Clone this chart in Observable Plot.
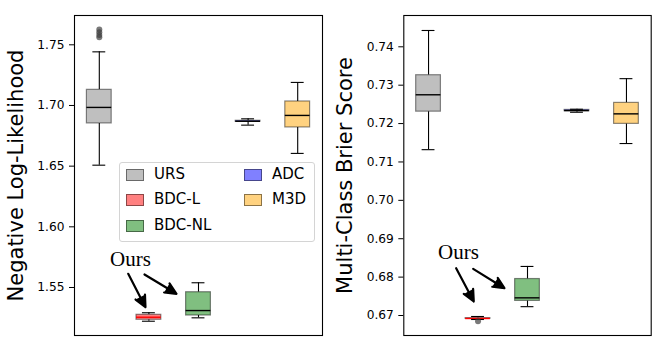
<!DOCTYPE html>
<html>
<head>
<meta charset="utf-8">
<script src="https://cdn.jsdelivr.net/npm/d3@7"></script>
<script src="https://cdn.jsdelivr.net/npm/@observablehq/plot@0.6"></script>
<style>
  html, body { margin: 0; padding: 0; background: white; }
  #wrap { position: relative; width: 665px; height: 350px; overflow: hidden; font-family: "DejaVu Sans", sans-serif; }
  #wrap svg { position: absolute; top: 0; }
  .legend { position: absolute; border: 1px solid #d4d4d4; border-radius: 3px; background: rgba(255,255,255,0.85); }
  .lg-item { position: absolute; font-size: 15px; line-height: 15px; color: black; white-space: nowrap; }
  .lg-sw { position: absolute; width: 16px; height: 10px; border: 1px solid rgba(0,0,0,0.45); }
</style>
</head>
<body>
<div id="wrap"></div>
<script>
// ---- data ----
const methods = ["URS", "BDC-L", "BDC-NL", "ADC", "M3D"];
const positions = [1, 2, 3, 4, 5];
const boxFill = ["#bfbfbf", "#ff8080", "#80bf80", "#8080ff", "#ffd280"];
const medianColor = ["black", "red", "black", "black", "black"];

// Negative Log-Likelihood
const nllLo     = [1.6508, 1.5222, 1.5250, 1.6838, 1.6605];
const nllQ1     = [1.6852, 1.5234, 1.5269, 1.6866, 1.6819];
const nllMedian = [1.6984, 1.5255, 1.5310, 1.6870, 1.6918];
const nllQ3     = [1.7129, 1.5275, 1.5461, 1.6874, 1.7033];
const nllHi     = [1.7442, 1.5292, 1.5539, 1.6890, 1.7190];
const nllOutlierMethod = ["URS", "URS", "URS", "URS"];
const nllOutlierValue  = [1.7563, 1.7580, 1.7604, 1.7626];
const nllTicks = [1.55, 1.60, 1.65, 1.70, 1.75];
const nllDomain = [1.51044, 1.77415];

// Multi-Class Brier Score
const bsLo     = [0.7132, 0.66896, 0.6723, 0.72295, 0.7148];
const bsQ1     = [0.7231, 0.66912, 0.6738, 0.72322, 0.71992];
const bsMedian = [0.7275, 0.66922, 0.6746, 0.72339, 0.72253];
const bsQ3     = [0.7326, 0.66932, 0.6795, 0.72356, 0.72539];
const bsHi     = [0.74425, 0.66974, 0.68278, 0.72373, 0.7317];
const bsOutlierMethod = ["BDC-L"];
const bsOutlierValue  = [0.6685];
const bsTicks = [0.67, 0.68, 0.69, 0.70, 0.71, 0.72, 0.73, 0.74];
const bsDomain = [0.66479, 0.748154];

// "Ours" annotations (data units: x = box position, y = value)
const nllOurs = {x: 1.629, y: 1.5734};
const nllArrows = [
  {x1: 1.583, y1: 1.5613, x2: 1.931, y2: 1.5338},
  {x1: 1.911, y1: 1.5607, x2: 2.556, y2: 1.5448}
];
const bsOurs = {x: 1.6055, y: 0.68652};
const bsArrows = [
  {x1: 1.558, y1: 0.68232, x2: 1.914, y2: 0.67365},
  {x1: 1.902, y1: 0.68216, x2: 2.534, y2: 0.67711}
];

function panel({lo, q1, med, q3, hi, outM, outV, ticks, domain, label, ours, arrows, width, marginLeft, marginRight, labelX}) {
  const boxes = methods.map((m, i) => ({m, p: positions[i], lo: lo[i], q1: q1[i], med: med[i], q3: q3[i], hi: hi[i], fill: boxFill[i], mc: medianColor[i]}));
  const outliers = outM.map((m, i) => ({p: positions[methods.indexOf(m)], v: outV[i]}));
  return Plot.plot({
    width, height: 350,
    marginLeft, marginRight, marginTop: 15, marginBottom: 15,
    style: {fontFamily: "DejaVu Sans, sans-serif", fontSize: "12.2px", background: "transparent", color: "black", overflow: "visible"},
    x: {domain: [0.5, 5.5], axis: null},
    y: {domain, ticks, tickFormat: ".2f", tickSize: 5, tickPadding: 5, label: null},
    marks: [
      Plot.ruleX(boxes, {x: "p", y1: "lo", y2: "q1", stroke: "black", strokeWidth: 1.1}),
      Plot.ruleX(boxes, {x: "p", y1: "q3", y2: "hi", stroke: "black", strokeWidth: 1.1}),
      Plot.rect(boxes, {x1: d => d.p - 0.25, x2: d => d.p + 0.25, y1: "q1", y2: "q3", fill: "fill", stroke: "black", strokeOpacity: 0.45, strokeWidth: 1.2}),
      Plot.ruleY(boxes, {y: "med", x1: d => d.p - 0.25, x2: d => d.p + 0.25, stroke: "mc", strokeWidth: 1.4}),
      Plot.ruleY(boxes, {y: "lo", x1: d => d.p - 0.13, x2: d => d.p + 0.13, stroke: "black", strokeWidth: 1.1}),
      Plot.ruleY(boxes, {y: "hi", x1: d => d.p - 0.13, x2: d => d.p + 0.13, stroke: "black", strokeWidth: 1.1}),
      Plot.dot(outliers, {x: "p", y: "v", r: 3, fill: "#404040", fillOpacity: 0.7, stroke: "none"}),
      Plot.text([ours], {x: "x", y: "y", text: () => "Ours", fontFamily: "Liberation Serif, Times New Roman, serif", fontSize: 21, textAnchor: "middle", lineAnchor: "middle", fill: "black"}),
      Plot.arrow(arrows, {x1: "x1", y1: "y1", x2: "x2", y2: "y2", stroke: "black", fill: "black", strokeWidth: 2.2, headLength: 14, headAngle: 50}),
      Plot.text([label], {frameAnchor: "left", text: d => d, rotate: -90, dx: labelX - marginLeft, fontSize: 21, lineAnchor: "middle", textAnchor: "middle", fill: "black"}),
      Plot.frame({stroke: "black", strokeWidth: 1.1})
    ]
  });
}

const wrap = document.getElementById("wrap");

const left = panel({lo: nllLo, q1: nllQ1, med: nllMedian, q3: nllQ3, hi: nllHi, outM: nllOutlierMethod, outV: nllOutlierValue,
  ticks: nllTicks, domain: nllDomain, label: "Negative Log-Likelihood", ours: nllOurs, arrows: nllArrows,
  width: 330, marginLeft: 74, marginRight: 8, labelX: 16});
left.style.left = "0px";
wrap.appendChild(left);

const right = panel({lo: bsLo, q1: bsQ1, med: bsMedian, q3: bsQ3, hi: bsHi, outM: bsOutlierMethod, outV: bsOutlierValue,
  ticks: bsTicks, domain: bsDomain, label: "Multi-Class Brier Score", ours: bsOurs, arrows: bsArrows,
  width: 335, marginLeft: 73.3, marginRight: 14.3, labelX: 15});
right.style.left = "330px";
wrap.appendChild(right);

// legend (inside left axes)
const legend = document.createElement("div");
legend.className = "legend";
Object.assign(legend.style, {left: "119px", top: "162px", width: "194px", height: "78px"});
const legendCols = [[0, 1, 2], [3, 4]];
legendCols.forEach((col, c) => {
  col.forEach((idx, r) => {
    const sw = document.createElement("div");
    sw.className = "lg-sw";
    sw.style.background = boxFill[idx];
    sw.style.left = (c === 0 ? 6 : 124) + "px";
    sw.style.top = (6 + r * 25.4) + "px";
    legend.appendChild(sw);
    const t = document.createElement("div");
    t.className = "lg-item";
    t.textContent = methods[idx];
    t.style.left = (c === 0 ? 34 : 152) + "px";
    t.style.top = (4 + r * 25.4) + "px";
    legend.appendChild(t);
  });
});
wrap.appendChild(legend);
</script>
</body>
</html>
